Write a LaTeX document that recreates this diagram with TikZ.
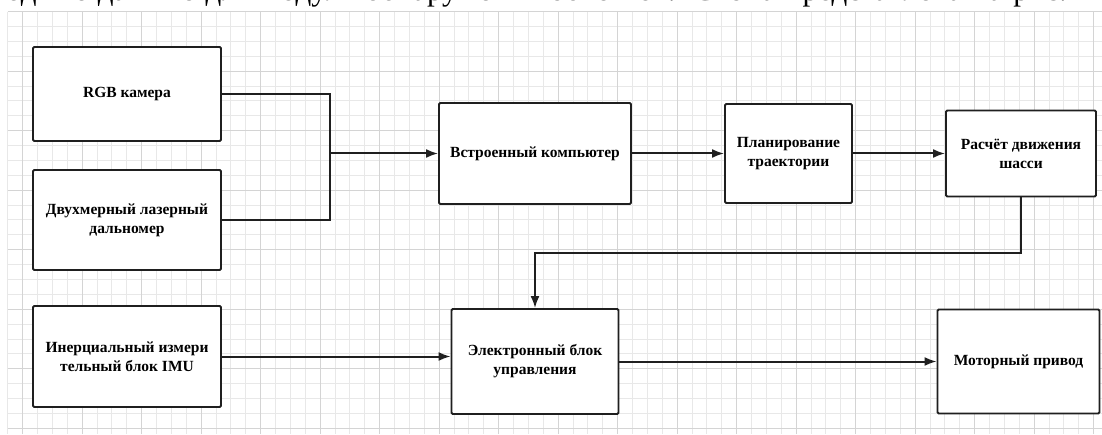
\documentclass[tikz,border=0pt]{standalone}
\usepackage{fontspec}
\setmainfont{Liberation Serif}
\usetikzlibrary{positioning,arrows.meta}

\begin{document}
\begin{tikzpicture}[x=1pt, y=1pt, node distance=2cm]
  \tikzset{align=center, font=\bfseries\fontsize{15.5}{19}\selectfont}
  \tikzset{block/.style = {shape=rectangle, draw=black!88, line width=1.9pt, rounded corners=1.2pt, fill=white, inner sep=0pt}}
  \tikzset{wire/.style = {draw=black!88, line width=2pt}}
  \tikzset{link/.style = {wire, -{Latex[length=12pt,width=9pt]}}}
  \tikzset{minorgrid/.style = {draw=black!9, line width=0.9pt}}
  \tikzset{majorgrid/.style = {draw=black!17, line width=1.1pt}}

  \useasboundingbox (0,0) rectangle (1102,434);
  \fill[white] (0,0) rectangle (1102,434);

  % background grid
  \draw[minorgrid, shift={(7.8,5.8)}, step=14.875pt] (0,-5.8) grid (1094.2,416.6);
  \draw[majorgrid, shift={(22.7,5.8)}, step=59.5pt] (-14.9,-5.8) grid (1079.3,416.6);

  % cut-off line of the page text
  \node[anchor=base west, inner sep=0pt, font=\fontsize{31}{34}\selectfont] (headline) at (6,433)
    {\makebox[1094pt][s]{одные данные для модуля обнаружения объектов. Схема представлена на рис. 1}};

  \node[block, minimum width=188pt, minimum height=94pt] (rgb) at (127,340) {RGB камера};
  \node[block, minimum width=188pt, minimum height=100pt] (laser) [below of=rgb, node distance=126pt] {Двухмерный лазерный\\дальномер};
  \node[block, minimum width=188pt, minimum height=101pt] (imu) [below of=laser, node distance=136.5pt] {Инерциальный измери\\тельный блок IMU};

  \node[block, minimum width=192pt, minimum height=101pt] (comp) at (535,280.5) {Встроенный компьютер};
  \node[block, minimum width=127pt, minimum height=99pt] (plan) [right of=comp, node distance=253.5pt] {Планирование\\траектории};
  \node[block, minimum width=150pt, minimum height=86pt] (calc) [right of=plan, node distance=232.5pt] {Расчёт движения\\шасси};

  \node[block, minimum width=167pt, minimum height=105pt] (ecu) [below of=comp, node distance=208pt] {Электронный блок\\управления};
  \node[block, minimum width=162pt, minimum height=104pt] (motor) [right of=ecu, node distance=483.5pt] {Моторный привод};

  \coordinate (merge) at (330,0 |- comp.west);

  \draw[wire] (rgb.east) -| (merge) |- (laser.east);
  \draw[link] (merge) -- (comp.west);
  \draw[link] (comp.east) -- (plan.west);
  \draw[link] (plan.east) -- (plan.east -| calc.west);
  \draw[link] (calc.south) -- ++(0,-56) -| (ecu.north);
  \draw[link] (imu.east) -- (imu.east -| ecu.west);
  \draw[link] (ecu.east) -- (ecu.east -| motor.west);
\end{tikzpicture}
\end{document}
